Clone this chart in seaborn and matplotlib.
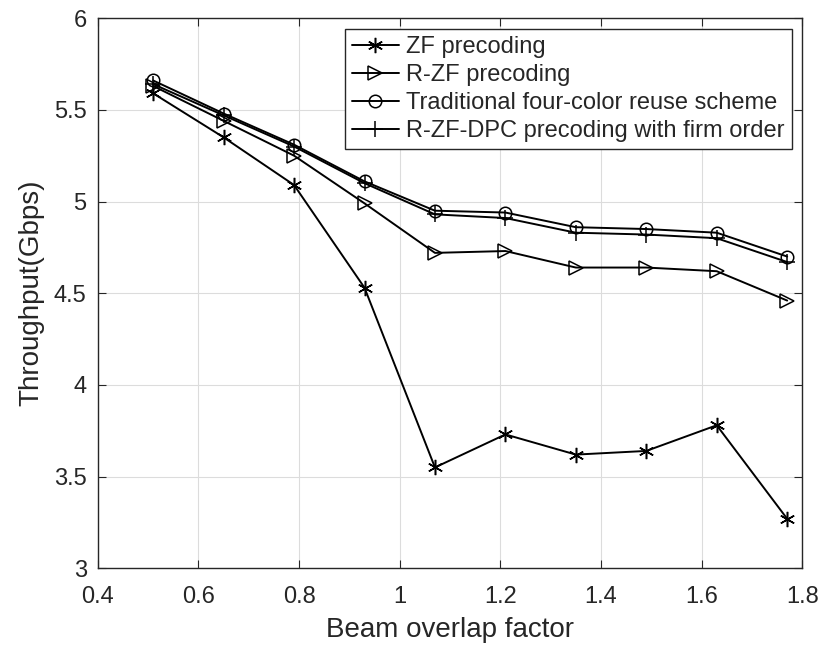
"""
Throughput vs beam overlap factor for several precoding schemes.
"""

import matplotlib
matplotlib.use("Agg")
import matplotlib.pyplot as plt
import numpy as np
import seaborn as sns
from matplotlib.ticker import FuncFormatter

# Data
beam_overlap = [0.51, 0.65, 0.79, 0.93, 1.07, 1.21, 1.35, 1.49, 1.63, 1.77]
zf_precoding = [5.59, 5.35, 5.09, 4.53, 3.55, 3.73, 3.62, 3.64, 3.78, 3.27]
rzf_precoding = [5.63, 5.44, 5.25, 4.99, 4.72, 4.73, 4.64, 4.64, 4.62, 4.46]
four_color = [5.66, 5.48, 5.31, 5.11, 4.95, 4.94, 4.86, 4.85, 4.83, 4.70]
rzf_dpc = [5.64, 5.47, 5.30, 5.10, 4.93, 4.91, 4.83, 4.82, 4.80, 4.67]

series_labels = [
    "ZF precoding",
    "R-ZF precoding",
    "Traditional four-color reuse scheme",
    "R-ZF-DPC precoding with firm order",
]
x_ticks = [0.4, 0.6, 0.8, 1.0, 1.2, 1.4, 1.6, 1.8]
y_ticks = [3.0, 3.5, 4.0, 4.5, 5.0, 5.5, 6.0]

# Style
sns.set_style("ticks")
plt.rcParams["font.family"] = ["Liberation Sans", "DejaVu Sans"]
plt.rcParams["xtick.direction"] = "in"
plt.rcParams["ytick.direction"] = "in"

fig = plt.figure(figsize=(8.22, 6.48), dpi=100)
ax = fig.add_axes([0.119, 0.123, 0.857, 0.849])

# Each series: values, marker, open marker?, marker size
styles = [
    (zf_precoding, (6, 2, 0), False, 11),
    (rzf_precoding, ">", True, 10),
    (four_color, "o", True, 9),
    (rzf_dpc, "+", False, 11),
]

for (values, marker, is_open, msize), label in zip(styles, series_labels):
    sns.lineplot(
        x=beam_overlap,
        y=values,
        ax=ax,
        color="black",
        linewidth=1.4,
        marker=marker,
        markersize=msize,
        markeredgewidth=1.1,
        markeredgecolor="black",
        markerfacecolor="none" if is_open else "black",
        label=label,
    )

ax.set_xlim(0.4, 1.8)
ax.set_ylim(3, 6)
ax.set_xticks(x_ticks)
ax.set_yticks(y_ticks)
fmt = FuncFormatter(lambda v, _: f"{v:g}")
ax.xaxis.set_major_formatter(fmt)
ax.yaxis.set_major_formatter(fmt)

ax.grid(True, color="#dcdcdc", linewidth=0.8)
ax.set_axisbelow(True)
for spine in ax.spines.values():
    spine.set_visible(True)
    spine.set_color("#262626")
    spine.set_linewidth(1.0)

ax.tick_params(axis="both", which="major", labelsize=17, length=6, width=0.8,
               top=True, right=True, colors="#262626")
ax.tick_params(axis="x", pad=13)
ax.tick_params(axis="y", pad=8)

ax.set_xlabel("Beam overlap factor", fontsize=20, color="#262626", labelpad=6)
ax.set_ylabel("Throughput(Gbps)", fontsize=20, color="#262626", labelpad=7)

leg = ax.legend(
    loc="upper right",
    fontsize=17,
    fancybox=False,
    framealpha=1,
    edgecolor="#262626",
    borderaxespad=0.45,
    borderpad=0.3,
    labelspacing=0.26,
    handlelength=2.0,
    handletextpad=0.3,
)
leg.get_frame().set_linewidth(1.0)

fig.savefig("out.png", dpi=100)
plt.close(fig)
